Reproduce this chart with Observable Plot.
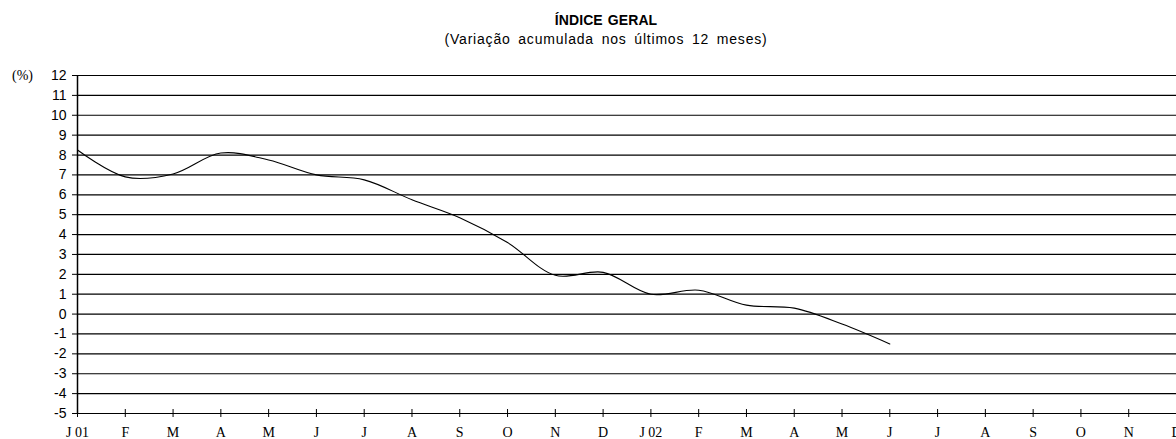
<!DOCTYPE html>
<html>
<head>
<meta charset="utf-8">
<script src="https://cdn.jsdelivr.net/npm/d3@7"></script>
<script src="https://cdn.jsdelivr.net/npm/@observablehq/plot@0.6"></script>
<style>
  html, body { margin: 0; padding: 0; background: #fff; overflow: hidden; }
  #wrap { position: relative; width: 1176px; height: 439px; }
  #head { position: relative; height: 44px; }
  .t { position: absolute; left: 606px; transform: translateX(-50%); white-space: nowrap; font-family: "Liberation Sans", Arial, sans-serif; color: #000; }
  #title { top: 12px; font-size: 14px; font-weight: bold; letter-spacing: 0.1px; word-spacing: 1px; }
  #subtitle { top: 31px; font-size: 14px; letter-spacing: 0.8px; word-spacing: 3px; }
  #unit { position: absolute; left: 12px; top: 68px; font-family: "Liberation Serif", "Times New Roman", serif; font-size: 14px; }
  svg { display: block; overflow: visible; }
</style>
</head>
<body>
<div id="wrap">
  <div id="head">
    <div class="t" id="title">ÍNDICE GERAL</div>
    <div class="t" id="subtitle">(Variação acumulada nos últimos 12 meses)</div>
  </div>
  <div id="unit">(%)</div>
  <div id="chart"></div>
</div>
<script>
// Month tick labels (Jan 2001 .. Dec 2002)
const monthLabels = ["J 01","F","M","A","M","J","J","A","S","O","N","D",
                     "J 02","F","M","A","M","J","J","A","S","O","N","D"];
// Accumulated 12-month variation (%), monthly from Jan 2001 to Jun 2002
const values = [8.25, 6.9, 7.05, 8.1, 7.75, 7.0, 6.75, 5.75, 4.85, 3.6, 1.95, 2.1,
                1.0, 1.2, 0.45, 0.3, -0.5, -1.5];
// Y tick values
const yTicks = d3.range(-5, 13);

const monthIdx = monthLabels.map((_, i) => i);
const series = values.map((v, i) => ({i, v}));

const chart = Plot.plot({
  width: 1176,
  height: 395,
  marginTop: 31,
  marginBottom: 26,
  marginLeft: 77,
  marginRight: 0,
  x: {domain: [0, monthLabels.length - 1]},
  y: {domain: [-5, 12]},
  marks: [
    Plot.ruleY(yTicks, {stroke: "#000", strokeWidth: 1.2}),
    Plot.ruleX([0], {stroke: "#000", strokeWidth: 1.5}),
    Plot.ruleX(monthIdx, {x: d => d, y1: -5, y2: -5, insetTop: -4, insetBottom: -4, stroke: "#000", strokeWidth: 1}),
    Plot.axisY({ticks: yTicks, tickSize: 5, tickPadding: 6, tickFormat: d => String(d),
      fontSize: 14, fontFamily: "Liberation Sans, Arial, sans-serif", label: null, stroke: "#000"}),
    Plot.axisX({ticks: monthIdx, tickSize: 0, tickPadding: 14, tickFormat: i => monthLabels[i],
      fontSize: 14, fontFamily: "Liberation Serif, Times New Roman, serif", label: null}),
    Plot.line(series, {x: "i", y: "v", curve: "catmull-rom", stroke: "#000", strokeWidth: 1.1})
  ]
});
chart.style.color = "#000";
chart.style.overflow = "visible";
document.getElementById("chart").appendChild(chart);
</script>
</body>
</html>
